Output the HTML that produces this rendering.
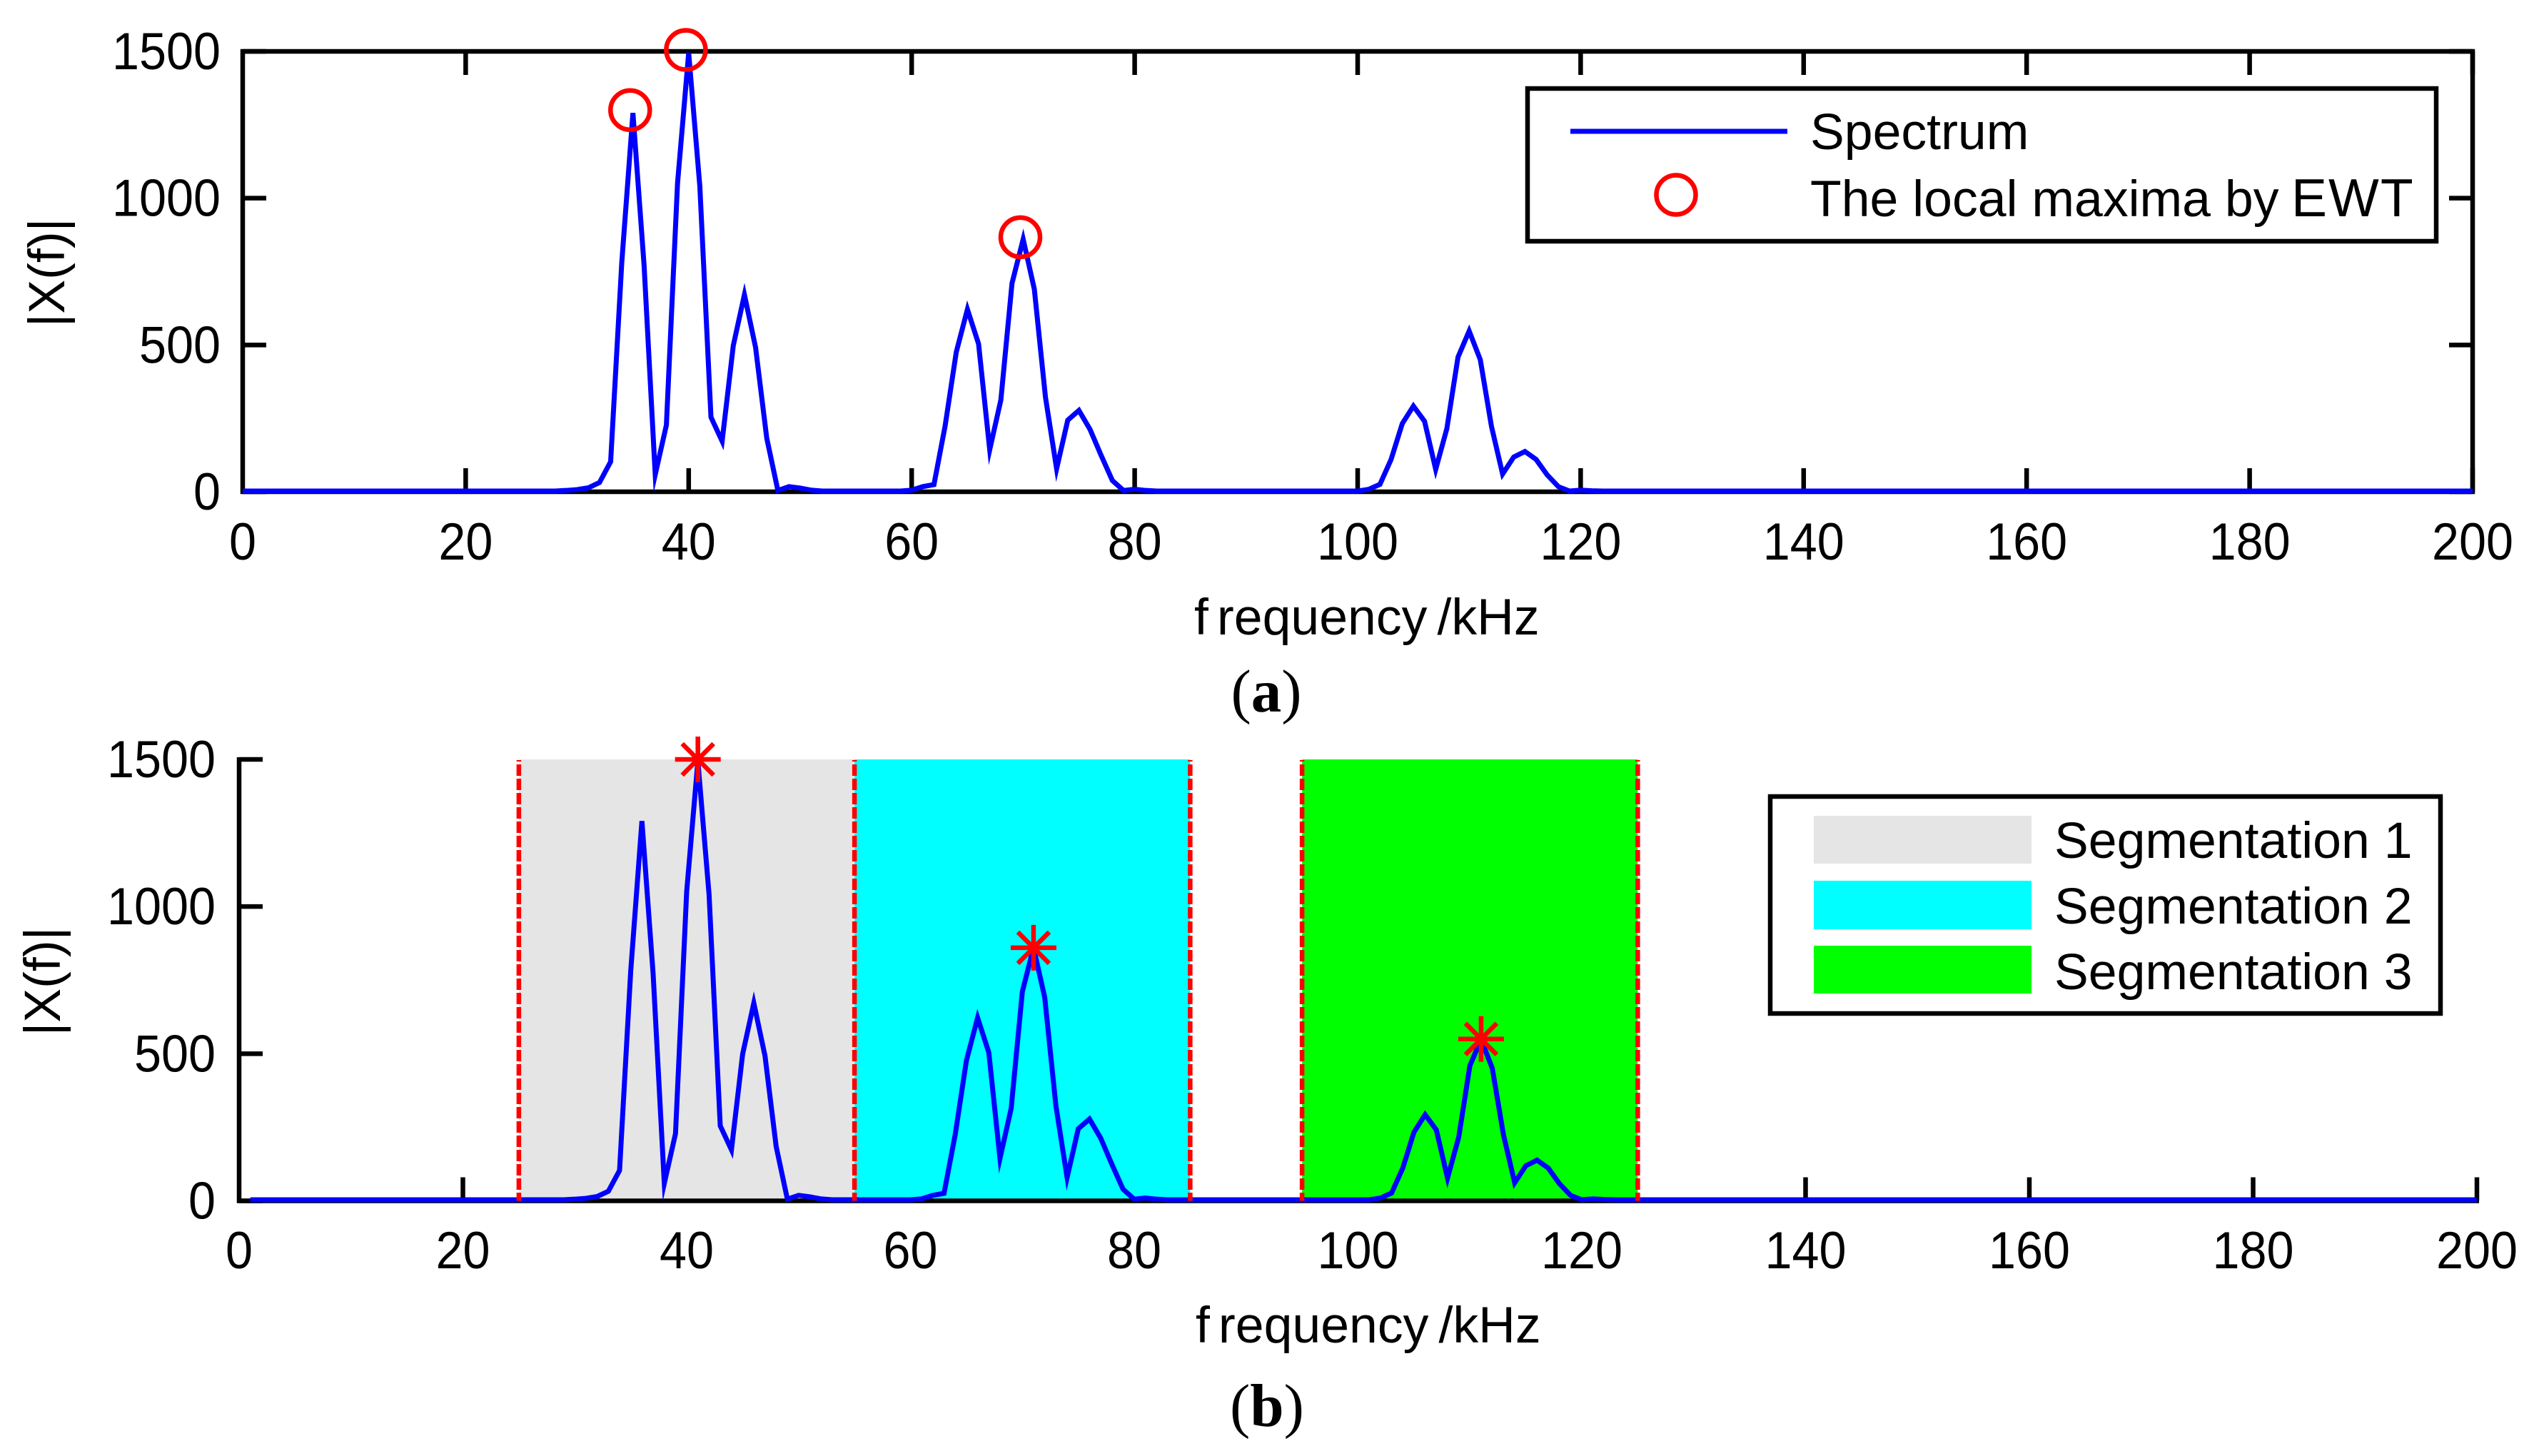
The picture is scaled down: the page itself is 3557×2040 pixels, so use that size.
<!DOCTYPE html>
<html lang="en">
<head>
<meta charset="utf-8">
<title>Spectrum segmentation by EWT</title>
<style>
  html, body { margin: 0; padding: 0; background: #fff; }
  svg { display: block; }
  text { font-family: "Liberation Sans", sans-serif; font-size: 71.6px; fill: #000; }
  .cap { font-family: "Liberation Serif", serif; font-size: 85px; }
</style>
</head>
<body>
<svg id="figure" xmlns="http://www.w3.org/2000/svg" width="3557" height="2040" viewBox="0 0 3557 2040">
  <g id="panelA"></g>
  <g id="panelB"></g>

  <g>
    <rect x="2140" y="124" width="1273" height="214" fill="#fff" stroke="#000" stroke-width="6.5"/>
    <line x1="2200" y1="184" x2="2504" y2="184" stroke="#0000ff" stroke-width="7"/>
    <text x="2536" y="209">Spectrum</text>
    <circle cx="2348" cy="273" r="27.5" fill="none" stroke="#ff0000" stroke-width="6.5"/>
    <text x="2536" y="303">The local maxima by <tspan x="3210" style="font-size:75px" letter-spacing="2">EWT</tspan></text>
  </g>

  <g>
    <rect x="2480" y="1116" width="939" height="304" fill="#fff" stroke="#000" stroke-width="6.5"/>
    <rect x="2541" y="1143" width="305" height="67" fill="#e5e5e5"/>
    <rect x="2541" y="1234" width="305" height="68" fill="#00ffff"/>
    <rect x="2541" y="1325" width="305" height="67" fill="#00ff00"/>
    <text x="2878" y="1202">Segmentation 1</text>
    <text x="2878" y="1294">Segmentation 2</text>
    <text x="2878" y="1386">Segmentation 3</text>
  </g>

  <text class="cap" x="1774" y="997" text-anchor="middle">(<tspan font-weight="bold">a</tspan>)</text>
  <text class="cap" x="1775" y="1998" text-anchor="middle">(<tspan font-weight="bold">b</tspan>)</text>
</svg>

<script>
// ---- Chart data ----
const spectrumKHz = [0, 28, 29, 30, 31, 32, 33, 34, 35, 36, 37, 38, 39, 40, 41, 42, 43, 44, 45, 46, 47, 48, 49, 50, 51, 52,
  59, 60, 61, 62, 63, 64, 65, 66, 67, 68, 69, 70, 71, 72, 73, 74, 75, 76, 77, 78, 79, 80, 81, 82,
  100, 101, 102, 103, 104, 105, 106, 107, 108, 109, 110, 111, 112, 113, 114, 115, 116, 117, 118, 119, 120, 121, 122, 200];
const spectrumMagnitude = [0, 0, 2, 5, 11, 29, 100, 780, 1290, 770, 56, 225, 1050, 1495, 1040, 252, 170, 496, 670, 490, 181, 2, 15, 10, 3, 0,
  0, 3, 15, 22, 222, 474, 620, 502, 141, 311, 709, 859, 689, 320, 76, 242, 275, 210, 121, 36, 2, 6, 2, 0,
  0, 6, 23, 108, 230, 290, 238, 74, 213, 457, 546, 448, 221, 58, 116, 135, 108, 55, 15, 0, 3, 1, 0, 0];
const panelBShiftKHz = 1;
const maximaKHz = [34.75, 39.75, 69.75];
const maximaMagnitude = [1300, 1505, 867];
const segmentStartKHz = [25, 55, 95];
const segmentEndKHz = [55, 85, 125];
const segmentColors = ['#e5e5e5', '#00ffff', '#00ff00'];
const segmentPeakKHz = [41, 71, 111];
const segmentPeakMagnitude = [1500, 860, 550];
const xTickLabels = [0, 20, 40, 60, 80, 100, 120, 140, 160, 180, 200];
const yTickLabels = [0, 500, 1000, 1500];

const SVG_NS = 'http://www.w3.org/2000/svg';
const INK = '#000';
const BLUE = '#0000ff';
const RED = '#ff0000';
const TICK_LEN = 33;
const STROKE = 6.5;
const LINE_STROKE = 7;
const DIGIT_ADVANCE = 38;

function make(parent, tag, attrs, content) {
  const node = document.createElementNS(SVG_NS, tag);
  Object.keys(attrs).forEach(function (k) { node.setAttribute(k, attrs[k]); });
  if (content !== undefined) node.textContent = content;
  parent.appendChild(node);
  return node;
}
function scale(d0, d1, r0, r1) {
  return function (v) { return r0 + (v - d0) * (r1 - r0) / (d1 - d0); };
}
function drawLine(parent, x1, y1, x2, y2, color) {
  return make(parent, 'line', { x1: x1, y1: y1, x2: x2, y2: y2, stroke: color, 'stroke-width': STROKE });
}
function tickText(parent, x, y, anchor, label) {
  return make(parent, 'text', {
    x: x, y: y, 'text-anchor': anchor, style: 'font-size:73px',
    textLength: String(label).length * DIGIT_ADVANCE, lengthAdjust: 'spacingAndGlyphs'
  }, String(label));
}
function drawXTicks(parent, x, yBase, yTop, top) {
  xTickLabels.forEach(function (t) {
    if (t !== 0) {
      const tick = drawLine(parent, x(t), yBase, x(t), yBase - TICK_LEN, INK);
      
      
      if (top) {
        const topTick = drawLine(parent, x(t), yTop, x(t), yTop + TICK_LEN, INK);
        
        
      }
    }
  });
}
function drawXLabels(parent, x, labelY) {
  xTickLabels.forEach(function (t) {
    const lab = tickText(parent, x(t), labelY, 'middle', t);
    
    
  });
}
function drawYTicks(parent, y, xLeft, xRight, right, labelX, labelDy) {
  yTickLabels.forEach(function (t) {
    const tick = drawLine(parent, xLeft, y(t), xLeft + TICK_LEN, y(t), INK);
    
    
    if (right) {
      const rTick = drawLine(parent, xRight, y(t), xRight - TICK_LEN, y(t), INK);
      
      
    }
    const lab = tickText(parent, labelX, y(t) + labelDy, 'end', t);
    
    
  });
}
function drawYTitle(parent, bx, cy) {
  const title = make(parent, 'text', { transform: 'translate(' + bx + ',' + cy + ') rotate(-90)', 'text-anchor': 'middle' }, '|X(f)|');
  
  
}
function drawXTitle(parent, xStart, base) {
  const title = make(parent, 'text', { x: xStart, y: base });
  
  
  make(title, 'tspan', {}, 'f');
  make(title, 'tspan', { dx: 12 }, 'requency');
  make(title, 'tspan', { dx: 14 }, '/kHz');
}

// ---- Panel (a) ----
(function () {
  const g = document.getElementById('panelA');
  const L = 340, R = 3464, T = 72, B = 689;
  const x = scale(0, 200, L, R);
  const y = scale(0, 1500, B, T);
  const yLine = scale(0, 1500, B - 1, T);

  drawXTicks(g, x, B, T, true);
  drawYTicks(g, y, L, R, true, 309, 25);
  drawXLabels(g, x, 784);
  drawYTitle(g, 90, 382);
  drawXTitle(g, 1673, 889);

  const box = make(g, 'rect', { x: L, y: T, width: R - L, height: B - T, fill: 'none', stroke: INK, 'stroke-width': STROKE });
  
  

  const pts = spectrumKHz.map(function (k, i) { return x(k) + ',' + yLine(spectrumMagnitude[i]); }).join(' ');
  const line = make(g, 'polyline', { points: pts, fill: 'none', stroke: BLUE, 'stroke-width': LINE_STROKE, 'stroke-linejoin': 'miter', 'stroke-miterlimit': 10 });
  
  

  maximaKHz.forEach(function (k, i) {
    const c = make(g, 'circle', { cx: x(k), cy: y(maximaMagnitude[i]), r: 27.5, fill: 'none', stroke: RED, 'stroke-width': STROKE });
    
    
  });
})();

// ---- Panel (b) ----
(function () {
  const g = document.getElementById('panelB');
  const L = 335, R = 3470, T = 1064, B = 1682.5;
  const x = scale(0, 200, L, R);
  const y = scale(0, 1500, B, T);
  const yLine = scale(0, 1500, B - 1.5, T);

  drawXTicks(g, x, B, T, false);
  drawYTicks(g, y, L, R, false, 302, 25);
  drawXLabels(g, x, 1777);
  drawYTitle(g, 84, 1375);
  drawXTitle(g, 1675, 1881);

  segmentStartKHz.forEach(function (s, i) {
    const band = make(g, 'rect', { x: x(s), y: y(1500), width: x(segmentEndKHz[i]) - x(s), height: y(0) - y(1500), fill: segmentColors[i] });
    
    
  });

  const xAxis = drawLine(g, L - 3, B, R + 3, B, INK);
  
  
  const yAxis = drawLine(g, L, T - 3, L, B + 3, INK);
  
  

  const pts = spectrumKHz.map(function (k, i) {
    return x(Math.min(k + panelBShiftKHz, 200)) + ',' + yLine(spectrumMagnitude[i]);
  }).join(' ');
  const line = make(g, 'polyline', { points: pts, fill: 'none', stroke: BLUE, 'stroke-width': LINE_STROKE, 'stroke-linejoin': 'miter', 'stroke-miterlimit': 10 });
  
  

  const bounds = [];
  segmentStartKHz.forEach(function (s, i) {
    if (bounds.indexOf(s) < 0) bounds.push(s);
    if (bounds.indexOf(segmentEndKHz[i]) < 0) bounds.push(segmentEndKHz[i]);
  });
  bounds.forEach(function (k) {
    const d = make(g, 'line', { x1: x(k), y1: y(1500) + 1, x2: x(k), y2: y(0), stroke: RED, 'stroke-width': STROKE, 'stroke-dasharray': '16 4', 'stroke-dashoffset': 14 });
    
    
  });

  segmentPeakKHz.forEach(function (k, i) {
    const px = x(k), py = y(segmentPeakMagnitude[i]);
    const star = make(g, 'path', {
      d: 'M' + (px - 32) + ' ' + py + 'H' + (px + 32) +
         'M' + px + ' ' + (py - 32) + 'V' + (py + 32) +
         'M' + (px - 22) + ' ' + (py - 22) + 'L' + (px + 22) + ' ' + (py + 22) +
         'M' + (px - 22) + ' ' + (py + 22) + 'L' + (px + 22) + ' ' + (py - 22),
      fill: 'none', stroke: RED, 'stroke-width': STROKE
    });
    
    
  });
})();
</script>
</body>
</html>
